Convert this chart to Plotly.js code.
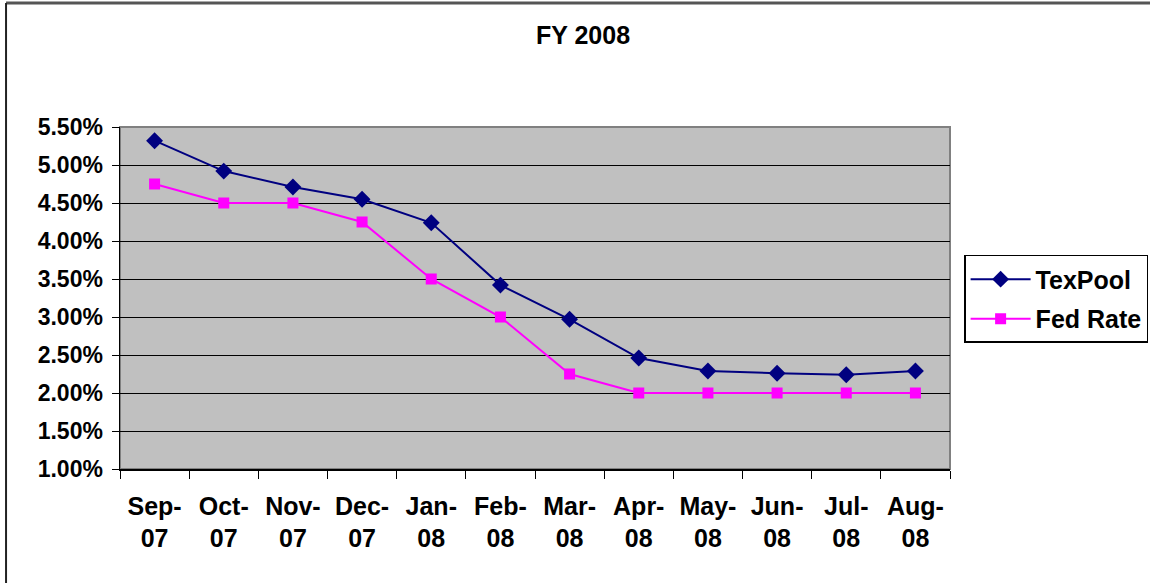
<!DOCTYPE html>
<html>
<head>
<meta charset="utf-8">
<script src="https://cdn.plot.ly/plotly-3.0.1.min.js"></script>
<style>
html,body{margin:0;padding:0;background:#fff;}
#chart{width:1150px;height:583px;}
</style>
</head>
<body>
<div id="chart"></div>
<script>
var months = ["Sep-<br>07","Oct-<br>07","Nov-<br>07","Dec-<br>07","Jan-<br>08","Feb-<br>08","Mar-<br>08","Apr-<br>08","May-<br>08","Jun-<br>08","Jul-<br>08","Aug-<br>08"];
var texPool = [5.32, 4.92, 4.71, 4.55, 4.24, 3.42, 2.97, 2.46, 2.29, 2.26, 2.24, 2.29];
var fedRate = [4.75, 4.50, 4.50, 4.25, 3.50, 3.00, 2.25, 2.00, 2.00, 2.00, 2.00, 2.00];
var yTicks = [1.0, 1.5, 2.0, 2.5, 3.0, 3.5, 4.0, 4.5, 5.0, 5.5];
var yTickLabels = ["1.00%","1.50%","2.00%","2.50%","3.00%","3.50%","4.00%","4.50%","5.00%","5.50%"];

var FONT = "Liberation Sans, Arial, sans-serif";

var traces = [
  {x: months, y: texPool, name: "TexPool", type: "scatter", mode: "lines+markers",
   legendgroup: "a",
   line: {color: "#000080", width: 2},
   marker: {symbol: "diamond", size: 13, color: "#000080"}},
  {x: months, y: fedRate, name: "Fed Rate", type: "scatter", mode: "lines+markers",
   legendgroup: "b",
   line: {color: "#FF00FF", width: 2},
   marker: {symbol: "square", size: 11, color: "#FF00FF"}}
];

var layout = {
  width: 1150, height: 583,
  paper_bgcolor: "#ffffff",
  plot_bgcolor: "#C0C0C0",
  margin: {l: 120, r: 200, t: 127, b: 114, autoexpand: false},
  font: {family: FONT, color: "#000"},
  title: {text: "<b>FY 2008</b>", font: {size: 25, family: FONT, color: "#000"},
          xref: "container", x: 0.507, xanchor: "center",
          yref: "container", y: 0.94, yanchor: "middle"},
  xaxis: {
    type: "category",
    tickson: "boundaries",
    ticks: "outside", ticklen: 8, tickwidth: 1, tickcolor: "#000",
    showline: true, linecolor: "#000", linewidth: 1.5,
    showgrid: false, zeroline: false,
    ticklabelstandoff: 14,
    tickfont: {size: 25, family: FONT, color: "#000", weight: "bold"},
    range: [-0.5, 11.5]
  },
  yaxis: {
    range: [1.0, 5.5],
    tickmode: "array",
    tickvals: yTicks,
    ticktext: yTickLabels,
    ticks: "outside", ticklen: 7, tickwidth: 1, tickcolor: "#000",
    showline: true, linecolor: "#000", linewidth: 1.5,
    showgrid: true, gridcolor: "#000", gridwidth: 1,
    zeroline: false,
    ticklabelstandoff: 4,
    tickfont: {size: 23, family: FONT, color: "#000", weight: "bold"}
  },
  showlegend: true,
  legend: {
    xref: "paper", yref: "paper",
    x: 1.017, xanchor: "left", y: 0.626, yanchor: "top",
    bordercolor: "#000", borderwidth: 1.5, bgcolor: "#fff",
    font: {size: 25, family: FONT, color: "#000", weight: "bold"},
    traceorder: "grouped", tracegroupgap: 4,
    itemwidth: 60
  },
  shapes: [
    {type: "rect", xref: "paper", yref: "paper", x0: 0, x1: 1, y0: 0, y1: 1,
     line: {color: "#808080", width: 2}, fillcolor: "rgba(0,0,0,0)", layer: "below"},
    {type: "line", xref: "paper", yref: "paper", x0: -0.1373, x1: 1.25, y0: 1.3626, y1: 1.3626,
     line: {color: "#555", width: 3}},
    {type: "line", xref: "paper", yref: "paper", x0: -0.1373, x1: -0.1373, y0: 1.3626, y1: -0.34,
     line: {color: "#222", width: 2}}
  ]
};

Plotly.newPlot("chart", traces, layout, {displayModeBar: false, staticPlot: true});
</script>
</body>
</html>
